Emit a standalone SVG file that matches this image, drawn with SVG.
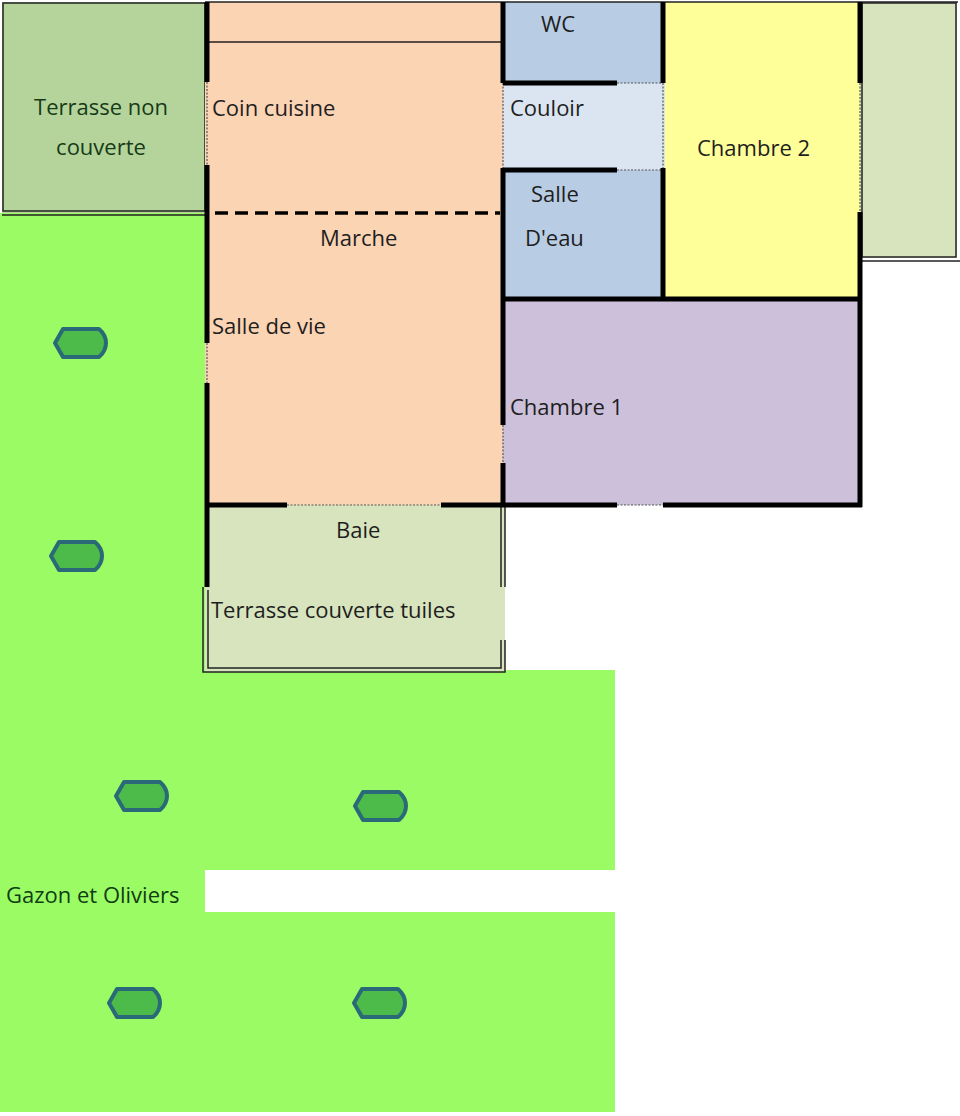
<svg xmlns="http://www.w3.org/2000/svg" width="960" height="1116" viewBox="0 0 960 1116">
<defs>
<style>
text{font-family:"Open Sans","Liberation Sans",sans-serif;font-size:22px;fill:#1e1e1e}
.w{stroke:#000;stroke-width:5;fill:none}
.d{stroke:#555;stroke-width:1.2;stroke-dasharray:2 1.5;fill:none}
.t{stroke:#222;stroke-width:1.5;fill:none}
.olive{fill:#4cbb4a;stroke:#2a6a78;stroke-width:4;stroke-linejoin:round}
</style>
<path id="ol" class="olive" d="M-18,-14 H18 Q25,-8 25,0 Q25,8 18,14 H-18 L-26,0 Z"/>
</defs>
<rect width="960" height="1116" fill="#fff"/>
<g id="gazon">
<rect x="0" y="213" width="205" height="660" fill="#9bfb64"/>
<rect x="0" y="670" width="615" height="200" fill="#9bfb64"/>
<rect x="0" y="912" width="615" height="200" fill="#9bfb64"/>
<rect x="0" y="868" width="205" height="46" fill="#9bfb64"/>
<text x="6" y="903" style="fill:#0f3d14">Gazon et Oliviers</text>
</g>
<g id="oliviers">
<use href="#ol" x="81" y="343"/>
<use href="#ol" x="77" y="556"/>
<use href="#ol" x="142" y="796"/>
<use href="#ol" x="381" y="806"/>
<use href="#ol" x="135" y="1003"/>
<use href="#ol" x="380" y="1003"/>
</g>
<g id="terrasse-non-couverte">
<rect x="2" y="2" width="203" height="211" fill="#b4d49c"/>
<rect x="3" y="3" width="202" height="208" class="t"/>
<path d="M2,215 H205" class="t"/>
<text x="101" y="115" text-anchor="middle" style="fill:#173a17">Terrasse non</text>
<text x="101" y="155" text-anchor="middle" style="fill:#173a17">couverte</text>
</g>
<g id="sejour">
<rect x="205" y="2" width="298" height="503" fill="#fbd4b4"/>
<path d="M207,42 H502" class="t"/>
<path d="M215,213 H500" stroke="#000" stroke-width="3.5" stroke-dasharray="13 7" fill="none"/>
<text x="212" y="116">Coin cuisine</text>
<text x="320" y="246">Marche</text>
<text x="212" y="334">Salle de vie</text>
</g>
<g id="wc">
<rect x="503" y="2" width="162" height="81" fill="#b8cce4"/>
<text x="541" y="32">WC</text>
</g>
<g id="couloir">
<rect x="503" y="83" width="162" height="87" fill="#dbe5f1"/>
<text x="510" y="116">Couloir</text>
</g>
<g id="salle-deau">
<rect x="503" y="170" width="162" height="128" fill="#b8cce4"/>
<text x="531" y="202">Salle</text>
<text x="525" y="246">D'eau</text>
</g>
<g id="chambre2">
<rect x="665" y="2" width="195" height="296" fill="#ffff99"/>
<text x="697" y="156">Chambre 2</text>
</g>
<g id="terrasse-droite">
<rect x="860" y="2" width="97" height="256" fill="#d7e4bd"/>
<rect x="862" y="3" width="94" height="254" class="t"/>
<path d="M860,261 H960" class="t"/>
</g>
<g id="chambre1">
<rect x="503" y="298" width="357" height="207" fill="#ccc0da"/>
<text x="510" y="415">Chambre 1</text>
</g>
<g id="terrasse-couverte">
<rect x="205" y="505" width="300" height="167" fill="#d7e4bd"/>
<path d="M203,587 V672 H505 V640 M505,587 V507" class="t"/>
<path d="M208,590 V668 H501 V640 M501,587 V507" class="t"/>
<text x="336" y="538">Baie</text>
<text x="211" y="618">Terrasse couverte tuiles</text>
</g>
<g id="murs">
<path d="M205,2 H958" class="t"/>
<path class="w" d="M207,2 V82 M207,165 V343 M207,383 V587"/>
<path class="d" d="M207,82 V165 M207,343 V383"/>
<path class="w" d="M503,2 V83 M503,168 V425 M503,463 V507"/>
<path class="d" d="M503,83 V168 M503,425 V463"/>
<path class="w" d="M503,83 H617 M503,170 H617"/>
<path class="d" d="M617,83 H663 M617,170 H663"/>
<path class="w" d="M663,2 V83 M663,168 V298"/>
<path class="d" d="M663,83 V168"/>
<path class="w" d="M503,299 H862"/>
<path class="w" d="M860,2 V83 M860,212 V507"/>
<path class="d" d="M860,83 V212"/>
<path class="w" d="M205,505 H287 M441,505 H617 M663,505 H862"/>
<path class="d" d="M287,505 H441 M617,505 H663"/>
</g>
</svg>
